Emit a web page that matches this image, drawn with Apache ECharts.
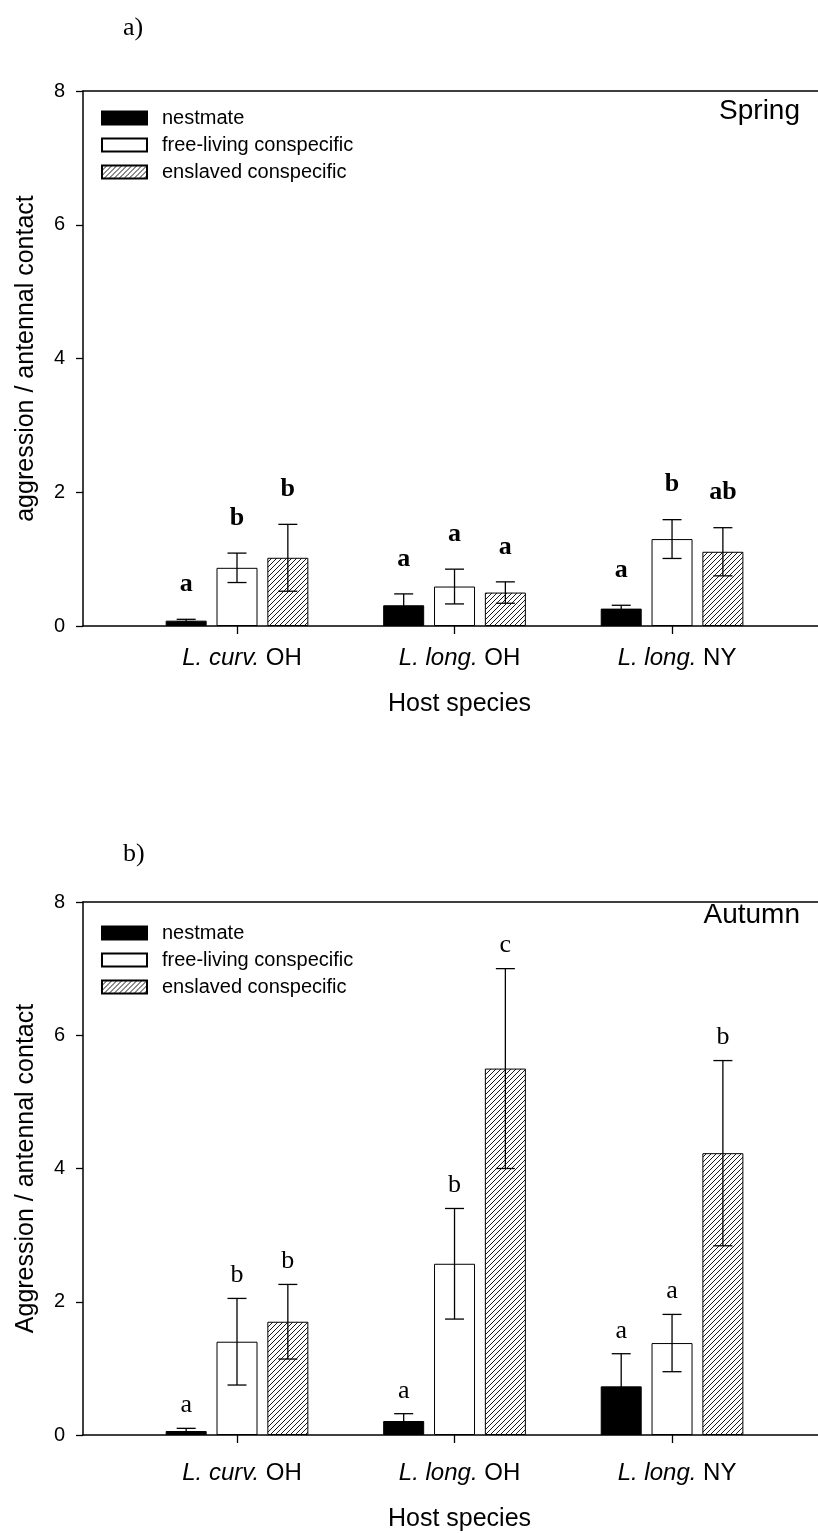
<!DOCTYPE html>
<html>
<head>
<meta charset="utf-8">
<title>Aggression / antennal contact</title>
<script src="https://cdn.jsdelivr.net/npm/echarts@6/dist/echarts.min.js"></script>
<style>
	html, body { margin: 0; padding: 0; background: #fff; }
	#chart { width: 818px; height: 1533px; }
</style>
</head>
<body>
<div id="chart"></div>
<script>
// host species, the italic genus part and the site
const hostGenus = ["L. curv.", "L. long.", "L. long."];
const hostSite = ["OH", "OH", "NY"];
const treatments = ["nestmate", "free-living conspecific", "enslaved conspecific"];

// a) spring: means, standard errors, letters
const springNestmate = [0.08, 0.31, 0.26];
const springNestmateErr = [0.02, 0.17, 0.05];
const springFree = [0.87, 0.59, 1.30];
const springFreeErr = [0.22, 0.26, 0.29];
const springEnslaved = [1.02, 0.50, 1.11];
const springEnslavedErr = [0.50, 0.16, 0.36];
const springLetters = [["a", "a", "a"], ["b", "a", "b"], ["b", "a", "ab"]];

// b) autumn
const autumnNestmate = [0.06, 0.21, 0.73];
const autumnNestmateErr = [0.04, 0.11, 0.49];
const autumnFree = [1.40, 2.57, 1.38];
const autumnFreeErr = [0.65, 0.83, 0.43];
const autumnEnslaved = [1.70, 5.50, 4.23];
const autumnEnslavedErr = [0.56, 1.50, 1.39];
const autumnLetters = [["a", "a", "a"], ["b", "b", "a"], ["b", "c", "b"]];

const SANS = "Liberation Sans";
const SERIF = "Liberation Serif";
const BAR_W = 41;
const BAR_GAP = 0.24;
const BAR_STEP = BAR_W * (1 + BAR_GAP);
const X_MIN = 0.292;
const X_MAX = 3.671;

// hatch "///" pattern
function hatch() {
	const s = 5;
	const c = document.createElement("canvas");
	c.width = s;
	c.height = s;
	const ctx = c.getContext("2d");
	ctx.fillStyle = "#fff";
	ctx.fillRect(0, 0, s, s);
	ctx.strokeStyle = "#000";
	ctx.lineWidth = 0.9;
	ctx.beginPath();
	ctx.moveTo(-1, s + 1);
	ctx.lineTo(s + 1, -1);
	ctx.moveTo(-1 - s, 1);
	ctx.lineTo(1, -1 - s);
	ctx.moveTo(s - 1, 2 * s + 1);
	ctx.lineTo(2 * s + 1, s - 1);
	ctx.stroke();
	return c;
}
const fills = ["#000", "#fff", { image: hatch(), repeat: "repeat" }];

const chart = echarts.init(document.getElementById("chart"), null, { renderer: "canvas" });

function xAxes(gridIndex, nameGap, labelMargin) {
	return [
		{
			gridIndex: gridIndex,
			type: "value",
			position: "bottom",
			min: X_MIN,
			max: X_MAX,
			splitLine: { show: false },
			axisLine: { lineStyle: { color: "#000", width: 1.5 } },
			axisTick: { customValues: [1, 2, 3], length: 8, lineStyle: { color: "#000", width: 1.3 } },
			axisLabel: {
				customValues: [1, 2, 3],
				margin: labelMargin,
				color: "#000",
				fontFamily: SANS,
				fontSize: 24,
				padding: [0, 0, 0, 10],
				formatter: function (v) {
					const i = Math.round(v) - 1;
					return "{i|" + hostGenus[i] + "} " + hostSite[i];
				},
				rich: { i: { fontStyle: "italic", fontFamily: SANS, fontSize: 24, color: "#000" } },
			},
			name: "Host species",
			nameLocation: "middle",
			nameGap: nameGap,
			nameTextStyle: { color: "#000", fontFamily: SANS, fontSize: 25, padding: [0, 0, 0, 18] },
		},
		{
			gridIndex: gridIndex,
			type: "value",
			position: "top",
			min: X_MIN,
			max: X_MAX,
			splitLine: { show: false },
			axisTick: { show: false },
			axisLabel: { show: false },
			axisLine: { lineStyle: { color: "#000", width: 1.5 } },
		},
	];
}

function yAxis(gridIndex, name) {
	return {
		gridIndex: gridIndex,
		type: "value",
		min: 0,
		max: 8,
		interval: 2,
		splitLine: { show: false },
		axisLine: { show: true, lineStyle: { color: "#000", width: 1.5 } },
		axisTick: { show: true, length: 7, lineStyle: { color: "#000", width: 1.3 } },
		axisLabel: { color: "#000", fontFamily: SANS, fontSize: 20, margin: 18 },
		name: name,
		nameLocation: "middle",
		nameGap: 44,
		nameTextStyle: { color: "#000", fontFamily: SANS, fontSize: 25 },
	};
}

function bars(xIdx, yIdx, lists) {
	return lists.map(function (vals, k) {
		return {
			name: treatments[k],
			type: "bar",
			xAxisIndex: xIdx,
			yAxisIndex: yIdx,
			barWidth: BAR_W,
			barGap: BAR_GAP * 100 + "%",
			itemStyle: { color: fills[k], borderColor: "#000", borderWidth: 1 },
			emphasis: { disabled: true },
			data: vals.map(function (v, i) {
				return [i + 1, v];
			}),
		};
	});
}

function errors(xIdx, yIdx, means, errs, letters, letterGap, bold) {
	const data = [];
	const lab = [];
	means.forEach(function (vals, k) {
		vals.forEach(function (v, i) {
			data.push([i + 1, k, v, errs[k][i]]);
			lab.push(letters[k][i]);
		});
	});
	return {
		type: "custom",
		xAxisIndex: xIdx,
		yAxisIndex: yIdx,
		z: 5,
		clip: false,
		silent: true,
		encode: { x: 0, y: 2 },
		data: data,
		renderItem: function (params, api) {
			const g = api.value(0);
			const k = api.value(1);
			const m = api.value(2);
			const e = api.value(3);
			const hi = api.coord([g, m + e]);
			const lo = api.coord([g, Math.max(m - e, 0)]);
			const x = hi[0] + (k - 1) * BAR_STEP;
			const cap = 9.5;
			const st = { stroke: "#000", lineWidth: 1.3 };
			return {
				type: "group",
				children: [
					{ type: "line", shape: { x1: x, y1: hi[1], x2: x, y2: lo[1] }, style: st },
					{ type: "line", shape: { x1: x - cap, y1: hi[1], x2: x + cap, y2: hi[1] }, style: st },
					{ type: "line", shape: { x1: x - cap, y1: lo[1], x2: x + cap, y2: lo[1] }, style: st },
					{
						type: "text",
						x: x,
						y: hi[1] - letterGap,
						style: {
							text: lab[params.dataIndex],
							align: "center",
							verticalAlign: "bottom",
							fill: "#000",
							fontFamily: SERIF,
							fontSize: 26,
							fontWeight: bold ? "bold" : "normal",
						},
					},
				],
			};
		},
	};
}

function legend(top) {
	return {
		orient: "vertical",
		left: 101,
		top: top,
		padding: 0,
		itemWidth: 45,
		itemHeight: 13,
		itemGap: 7,
		selectedMode: false,
		icon: "rect",
		textStyle: { color: "#000", fontFamily: SANS, fontSize: 20, padding: [0, 0, 0, 10] },
		data: treatments,
	};
}

const option = {
	animation: false,
	backgroundColor: "#fff",
	title: [
		{ text: "a)", left: 123, top: 15, padding: 0, textStyle: { fontFamily: SERIF, fontSize: 26, fontWeight: "normal", color: "#000" } },
		{ text: "b)", left: 123, top: 841, padding: 0, textStyle: { fontFamily: SERIF, fontSize: 26, fontWeight: "normal", color: "#000" } },
		{ text: "Spring", right: 18, top: 97, padding: 0, textStyle: { fontFamily: SANS, fontSize: 28, fontWeight: "normal", color: "#000" } },
		{ text: "Autumn", right: 18, top: 901, padding: 0, textStyle: { fontFamily: SANS, fontSize: 28, fontWeight: "normal", color: "#000" } },
	],
	legend: [legend(108), legend(923)],
	grid: [
		{ left: 83, right: 0, top: 91, height: 535 },
		{ left: 83, right: 0, top: 902, height: 533 },
	],
	xAxis: xAxes(0, 66, 20).concat(xAxes(1, 72, 26)),
	yAxis: [yAxis(0, "aggression / antennal contact"), yAxis(1, "Aggression / antennal contact")],
	series: []
		.concat(bars(0, 0, [springNestmate, springFree, springEnslaved]))
		.concat(bars(2, 1, [autumnNestmate, autumnFree, autumnEnslaved]))
		.concat([
			errors(0, 0, [springNestmate, springFree, springEnslaved],
				[springNestmateErr, springFreeErr, springEnslavedErr], springLetters, 22, true),
			errors(2, 1, [autumnNestmate, autumnFree, autumnEnslaved],
				[autumnNestmateErr, autumnFreeErr, autumnEnslavedErr], autumnLetters, 10, false),
		]),
};

chart.setOption(option);
</script>
</body>
</html>
